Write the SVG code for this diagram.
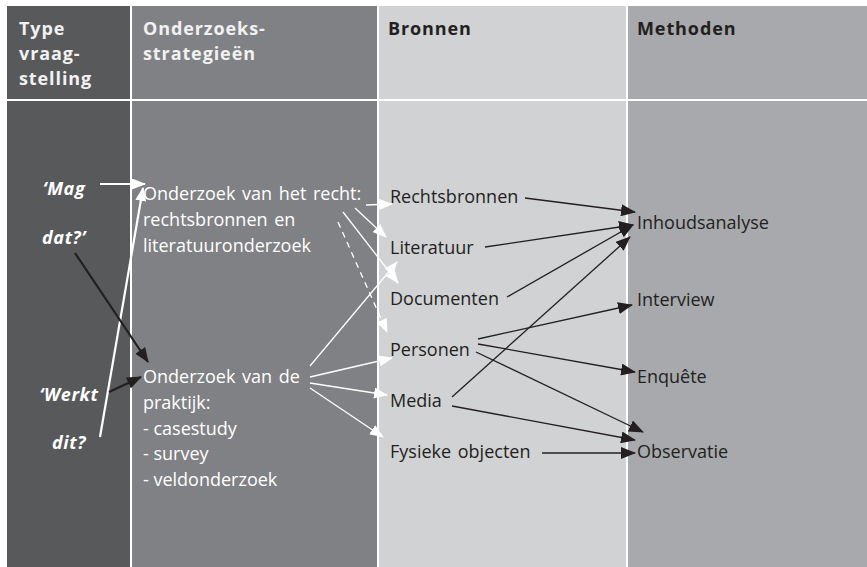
<svg xmlns="http://www.w3.org/2000/svg" width="867" height="567" viewBox="0 0 867 567">
<defs>
<style>
.hd{font-family:"Open Sans","Liberation Sans",sans-serif;font-weight:bold;font-size:18px;letter-spacing:0.9px}
.hl{fill:#f1f1f2}
.hk{fill:#231f20}
.bw{font-family:"Open Sans","Liberation Sans",sans-serif;font-size:18px;fill:#ffffff}
.bk{font-family:"Open Sans","Liberation Sans",sans-serif;font-size:18px;fill:#231f20}
.q{font-family:"Open Sans","Liberation Sans",sans-serif;font-weight:bold;font-style:italic;font-size:18px;letter-spacing:0.6px;fill:#ffffff;text-anchor:middle}
.wl{stroke:#ffffff;stroke-width:1.3;fill:none}
.wt{stroke:#ffffff;stroke-width:2.2;fill:none}
.kl{stroke:#231f20;stroke-width:1.3;fill:none}
.kt{stroke:#231f20;stroke-width:2.2;fill:none}
</style>
<marker id="aw" markerUnits="userSpaceOnUse" markerWidth="14" markerHeight="11" refX="13" refY="5.5" orient="auto" viewBox="0 0 14 11">
<path d="M0,0 L14,5.5 L0,11 z" fill="#ffffff"/>
</marker>
<marker id="ak" markerUnits="userSpaceOnUse" markerWidth="15" markerHeight="12" refX="14" refY="6" orient="auto" viewBox="0 0 15 12">
<path d="M0,0 L15,6 L0,12 z" fill="#231f20"/>
</marker>
</defs>
<rect width="867" height="567" fill="#ffffff"/>
<g id="columns">
<rect x="7" y="6" width="123" height="93" fill="#58595b"/>
<rect x="7" y="101" width="123" height="466" fill="#58595b"/>
<rect x="132" y="6" width="245" height="93" fill="#808184"/>
<rect x="132" y="101" width="245" height="466" fill="#808184"/>
<rect x="379" y="6" width="247" height="93" fill="#d1d2d4"/>
<rect x="379" y="101" width="247" height="466" fill="#d1d2d4"/>
<rect x="628" y="6" width="239" height="93" fill="#a7a9ac"/>
<rect x="628" y="101" width="239" height="466" fill="#a7a9ac"/>
</g>
<g id="headers">
<text class="hd hl" x="19" y="35">Type</text>
<text class="hd hl" x="19" y="60">vraag-</text>
<text class="hd hl" x="19" y="85">stelling</text>
<text class="hd hl" x="143" y="35">Onderzoeks-</text>
<text class="hd hl" x="143" y="60">strategieën</text>
<text class="hd hk" x="388" y="35">Bronnen</text>
<text class="hd hk" x="637" y="35">Methoden</text>
</g>
<g id="vraag">
<text class="q" x="64" y="195">‘Mag</text>
<text class="q" x="64" y="244">dat?’</text>
<text class="q" x="69" y="401">‘Werkt</text>
<text class="q" x="69" y="449">dit?</text>
</g>
<g id="strategie-recht">
<text class="bw" x="143" y="200" word-spacing="2">Onderzoek van het recht:</text>
<text class="bw" x="143" y="226" word-spacing="2">rechtsbronnen en</text>
<text class="bw" x="143" y="252">literatuuronderzoek</text>
</g>
<g id="strategie-praktijk">
<text class="bw" x="143" y="383" word-spacing="2">Onderzoek van de</text>
<text class="bw" x="143" y="409">praktijk:</text>
<text class="bw" x="143" y="435">- casestudy</text>
<text class="bw" x="143" y="460">- survey</text>
<text class="bw" x="143" y="486">- veldonderzoek</text>
</g>
<g id="bronnen">
<text class="bk" x="390" y="203">Rechtsbronnen</text>
<text class="bk" x="390" y="254">Literatuur</text>
<text class="bk" x="390" y="305">Documenten</text>
<text class="bk" x="390" y="356">Personen</text>
<text class="bk" x="390" y="407">Media</text>
<text class="bk" x="390" y="458" word-spacing="2">Fysieke objecten</text>
</g>
<g id="methoden">
<text class="bk" x="637" y="229">Inhoudsanalyse</text>
<text class="bk" x="637" y="306">Interview</text>
<text class="bk" x="637" y="383">Enquête</text>
<text class="bk" x="637" y="458">Observatie</text>
</g>
<g id="connectors">
<line class="wt" x1="100" y1="184" x2="145" y2="184" marker-end="url(#aw)"/>
<line class="wt" x1="100" y1="437" x2="143" y2="188" marker-end="url(#aw)"/>
<line class="kt" x1="75" y1="253" x2="148" y2="362" marker-end="url(#ak)"/>
<line class="kt" x1="109" y1="392" x2="141" y2="377" marker-end="url(#ak)"/>
<line class="wl" x1="366" y1="205" x2="392" y2="204" marker-end="url(#aw)"/>
<line class="wl" x1="355" y1="208" x2="386" y2="237" marker-end="url(#aw)"/>
<line class="wl" x1="343" y1="212" x2="398" y2="283" marker-end="url(#aw)"/>
<line class="wl" x1="338" y1="222" x2="387" y2="332" stroke-dasharray="6,5" marker-end="url(#aw)"/>
<line class="wl" x1="310" y1="366" x2="397" y2="262" marker-end="url(#aw)"/>
<line class="wl" x1="310" y1="377" x2="392" y2="358" marker-end="url(#aw)"/>
<line class="wl" x1="310" y1="383" x2="387" y2="395" marker-end="url(#aw)"/>
<line class="wl" x1="310" y1="388" x2="383" y2="437" marker-end="url(#aw)"/>
<line class="kl" x1="525" y1="198" x2="635" y2="212" marker-end="url(#ak)"/>
<line class="kl" x1="485" y1="247" x2="633" y2="225" marker-end="url(#ak)"/>
<line class="kl" x1="507" y1="297" x2="633" y2="225" marker-end="url(#ak)"/>
<line class="kl" x1="452" y1="397" x2="630" y2="237" marker-end="url(#ak)"/>
<line class="kl" x1="478" y1="339" x2="632" y2="305" marker-end="url(#ak)"/>
<line class="kl" x1="478" y1="344" x2="635" y2="372" marker-end="url(#ak)"/>
<line class="kl" x1="476" y1="352" x2="643" y2="432" marker-end="url(#ak)"/>
<line class="kl" x1="452" y1="406" x2="635" y2="440" marker-end="url(#ak)"/>
<line class="kl" x1="542" y1="453" x2="635" y2="453" marker-end="url(#ak)"/>
</g>
</svg>
